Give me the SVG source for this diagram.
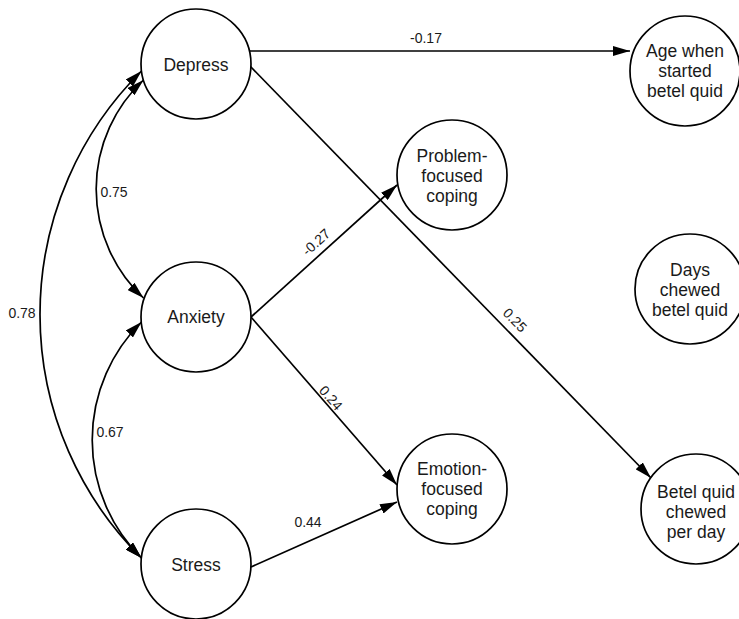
<svg xmlns="http://www.w3.org/2000/svg" width="739" height="619" viewBox="0 0 739 619">
<style>
.node{fill:#fff;stroke:#000;stroke-width:1.7}
.nt{font-family:"Liberation Sans",Arial,sans-serif;font-size:17.5px;fill:#1a1a1a;text-anchor:middle}
.lbl{font-family:"Liberation Sans",Arial,sans-serif;font-size:14px;fill:#1a1a1a;text-anchor:middle}
.edge{fill:none;stroke:#000;stroke-width:1.7}
.one{marker-end:url(#ah)}
.two{marker-start:url(#ah);marker-end:url(#ah)}
</style>
<defs>
<marker id="ah" viewBox="0 0 17 10" refX="17" refY="5" markerWidth="17" markerHeight="10" markerUnits="userSpaceOnUse" orient="auto-start-reverse">
<path d="M0,0 L17,5 L0,10 z" fill="#000"/>
</marker>
</defs>
<rect width="739" height="619" fill="#fff"/>
<g id="connectors">
<path class="edge one" d="M249,51 L630,51"/>
<path class="edge one" d="M250,66 L651,478"/>
<path class="edge one" d="M251,317 L397,185"/>
<path class="edge one" d="M251,317 L397,485"/>
<path class="edge one" d="M251,567 L397,502"/>
<path class="edge two" d="M143.5,80 A149.2,149.2 0 0 0 143.5,298"/>
<path class="edge two" d="M141.5,322 A165.9,165.9 0 0 0 141.5,558"/>
<path class="edge two" d="M141.5,71 A342.8,342.8 0 0 0 141.5,558"/>
<text class="lbl" x="426" y="43">-0.17</text>
<text class="lbl" x="114" y="197">0.75</text>
<text class="lbl" x="22" y="318">0.78</text>
<text class="lbl" x="110" y="437">0.67</text>
<text class="lbl" x="308" y="527">0.44</text>
<text class="lbl" transform="translate(316,242) rotate(-42)" y="5">-0.27</text>
<text class="lbl" transform="translate(331,398) rotate(48.5)" y="5">0.24</text>
<text class="lbl" transform="translate(515,320) rotate(45.7)" y="5">0.25</text>
</g>
<g id="depress"><circle class="node" cx="196" cy="64" r="55"/><text class="nt" x="196" y="70.5">Depress</text></g>
<g id="anxiety"><circle class="node" cx="196" cy="317" r="55"/><text class="nt" x="196" y="322.5">Anxiety</text></g>
<g id="stress"><circle class="node" cx="196" cy="564" r="55"/><text class="nt" x="196" y="571">Stress</text></g>
<g id="age"><circle class="node" cx="685" cy="71" r="55"/><text class="nt" x="685" y="57">Age when</text><text class="nt" x="685" y="77">started</text><text class="nt" x="685" y="97">betel quid</text></g>
<g id="problem"><circle class="node" cx="452" cy="175" r="55"/><text class="nt" x="452" y="161.5">Problem-</text><text class="nt" x="452" y="181.5">focused</text><text class="nt" x="452" y="201.5">coping</text></g>
<g id="days"><circle class="node" cx="690" cy="289" r="55"/><text class="nt" x="690" y="275.5">Days</text><text class="nt" x="690" y="295.5">chewed</text><text class="nt" x="690" y="315.5">betel quid</text></g>
<g id="emotion"><circle class="node" cx="452" cy="489" r="55"/><text class="nt" x="452" y="475">Emotion-</text><text class="nt" x="452" y="495">focused</text><text class="nt" x="452" y="515">coping</text></g>
<g id="perday"><circle class="node" cx="696" cy="509" r="55"/><text class="nt" x="696" y="498">Betel quid</text><text class="nt" x="696" y="518">chewed</text><text class="nt" x="696" y="538">per day</text></g>
</svg>
